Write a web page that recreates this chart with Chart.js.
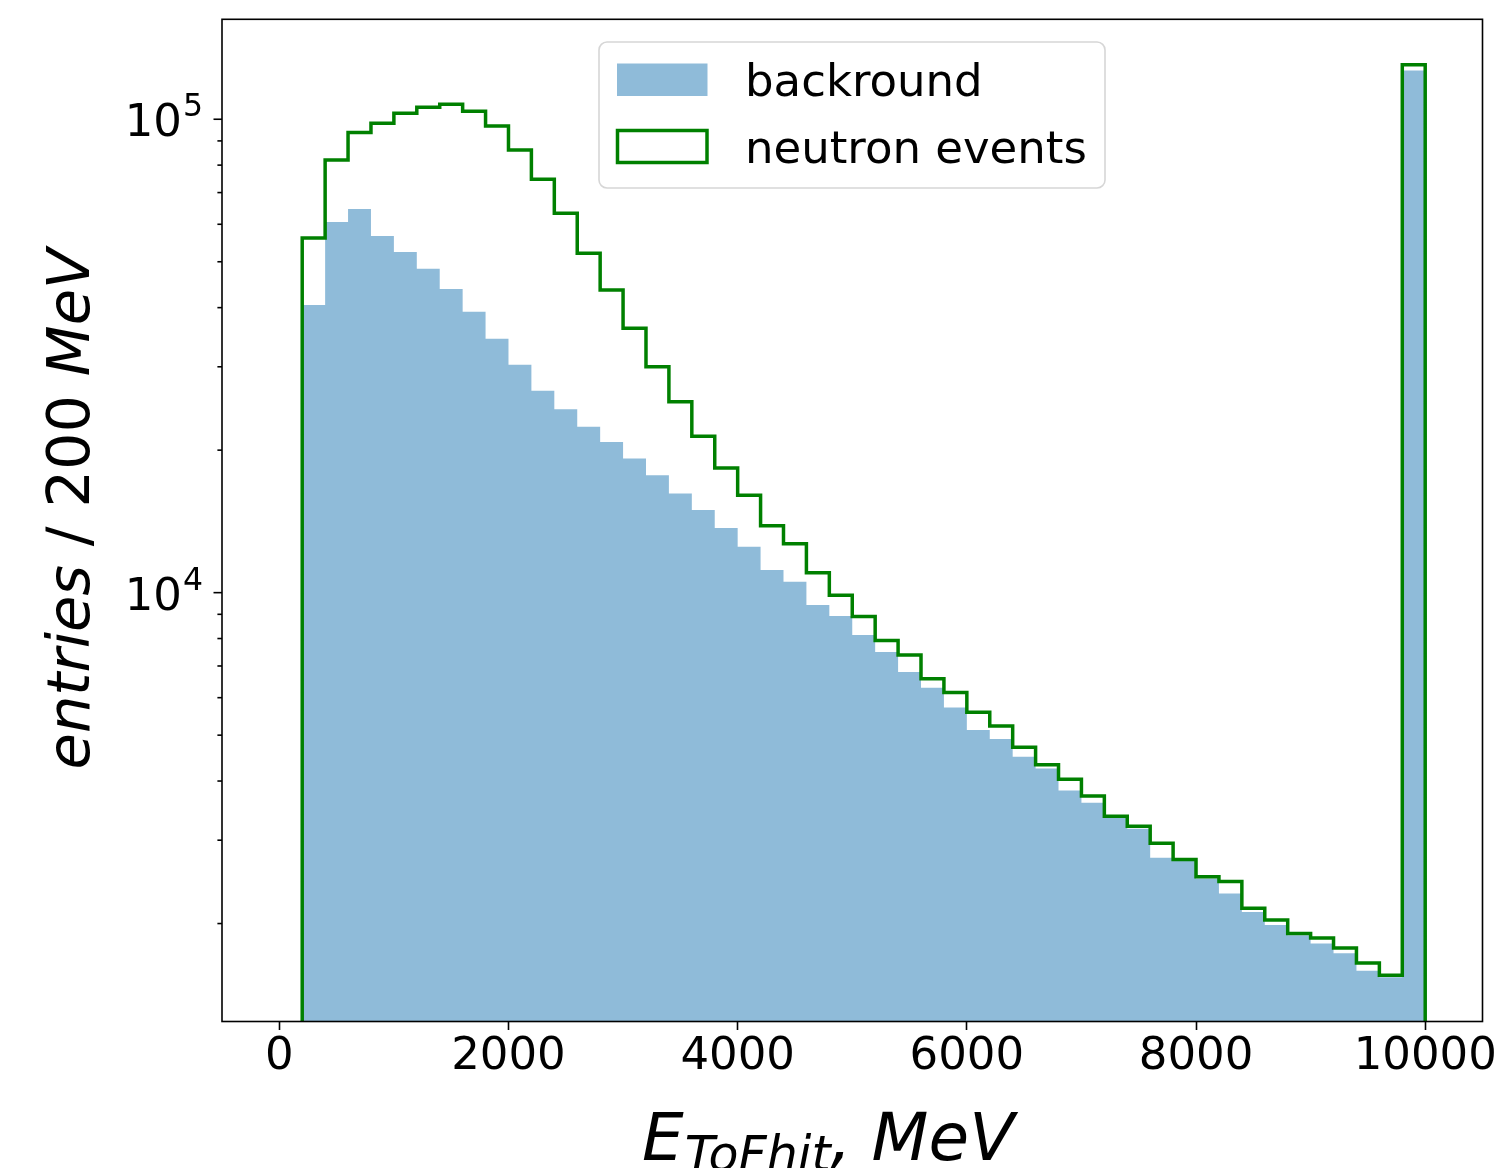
<!DOCTYPE html>
<html>
<head>
<meta charset="utf-8">
<title>ToF hit energy</title>
<script src="https://cdn.jsdelivr.net/npm/chart.js@4.4.1/dist/chart.umd.min.js"></script>
<style>
  html, body { margin: 0; padding: 0; background: #fff; }
  #wrap { width: 1500px; height: 1168px; }
</style>
</head>
<body>
<div id="wrap"><canvas id="histChart" width="1500" height="1168"></canvas></div>
<script>
// bin edges, 200 MeV wide
const binEdges = [
  200, 400, 600, 800, 1000, 1200, 1400, 1600, 1800, 2000,
  2200, 2400, 2600, 2800, 3000, 3200, 3400, 3600, 3800, 4000,
  4200, 4400, 4600, 4800, 5000, 5200, 5400, 5600, 5800, 6000,
  6200, 6400, 6600, 6800, 7000, 7200, 7400, 7600, 7800, 8000,
  8200, 8400, 8600, 8800, 9000, 9200, 9400, 9600, 9800, 10000
];

// entries per bin
const background = [
  40500, 60700, 64600, 56700, 52400, 48300, 43800, 39200, 34400, 30300,
  26700, 24400, 22400, 20800, 19200, 17700, 16200, 14950, 13700, 12500,
  11170, 10540, 9420, 8930, 8140, 7490, 6800, 6300, 5720, 5130,
  4910, 4500, 4250, 3820, 3600, 3340, 3170, 2755, 2710, 2490,
  2315, 2115, 1985, 1890, 1815, 1730, 1590, 1540, 126700
];

const neutron = [
  56150, 82000, 93700, 98100, 103000, 106000, 107600, 104000, 96800, 86100,
  74700, 63300, 52100, 43600, 36200, 30000, 25300, 21400, 18340, 16060,
  13850, 12690, 11010, 9880, 8900, 7920, 7380, 6580, 6150, 5590,
  5230, 4715, 4330, 4035, 3720, 3370, 3210, 2955, 2730, 2510,
  2455, 2155, 2035, 1905, 1865, 1775, 1650, 1555, 130400
];

const xTicks = [0, 2000, 4000, 6000, 8000, 10000];
const yMajorExponents = [4, 5];
const legendLabels = ["backround", "neutron events"];

const xRange = [-500, 10500];
const yRange = [1242, 162600];

const fillColor = "rgba(31, 119, 180, 0.5)";
const stepColor = "#008000";
const FONT = "'DejaVu Sans', 'Liberation Sans', sans-serif";

// one point per bin edge; the last edge repeats the last bin so the step closes
function stepPoints(values) {
  return binEdges.map(function (x, i) {
    return { x: x, y: values[Math.min(i, values.length - 1)] };
  });
}

// outline drops to the bottom at both ends, like histtype='step'
const outlineFloor = 1;
const neutronPoints = [{ x: binEdges[0], y: outlineFloor }]
  .concat(stepPoints(neutron))
  .concat([{ x: binEdges[binEdges.length - 1], y: outlineFloor }]);

function drawRuns(ctx, runs, x, y) {
  // draws a list of text pieces left to right, returns the end x
  runs.forEach(function (r) {
    ctx.font = r.font;
    ctx.fillText(r.text, x + (r.dx || 0), y + (r.dy || 0));
    x += ctx.measureText(r.text).width + (r.dx || 0);
  });
  return x;
}

function runsWidth(ctx, runs) {
  let w = 0;
  runs.forEach(function (r) {
    ctx.font = r.font;
    w += ctx.measureText(r.text).width + (r.dx || 0);
  });
  return w;
}

const decorations = {
  id: "decorations",
  afterDraw(chart) {
    const ctx = chart.ctx;
    const a = chart.chartArea;
    const yScale = chart.scales.y;
    ctx.save();

    // frame
    ctx.strokeStyle = "#000";
    ctx.lineWidth = 1.6;
    ctx.strokeRect(a.left, a.top, a.right - a.left, a.bottom - a.top);

    // log y ticks: majors at decades, minors at 2..9
    for (let e = 3; e <= 5; e++) {
      for (let m = 1; m < 10; m++) {
        const v = m * Math.pow(10, e);
        if (v < yScale.min || v > yScale.max) continue;
        const py = yScale.getPixelForValue(v);
        const len = m === 1 ? 8.5 : 4.6;
        ctx.beginPath();
        ctx.moveTo(a.left - len, py);
        ctx.lineTo(a.left, py);
        ctx.stroke();
      }
    }

    // decade labels 10^n
    ctx.fillStyle = "#000";
    ctx.textBaseline = "alphabetic";
    yMajorExponents.forEach(function (e) {
      const py = yScale.getPixelForValue(Math.pow(10, e));
      ctx.textAlign = "right";
      ctx.font = "45px " + FONT;
      ctx.fillText("10", 182, py + 17);
      ctx.textAlign = "left";
      ctx.font = "31.5px " + FONT;
      ctx.fillText(String(e), 183, py - 3);
    });

    // y axis title
    const yRuns = [
      { text: "entries", font: "italic 59px " + FONT },
      { text: " / 200 ", font: "59px " + FONT },
      { text: "MeV", font: "italic 59px " + FONT }
    ];
    ctx.save();
    ctx.translate(89, 509);
    ctx.rotate(-Math.PI / 2);
    ctx.textAlign = "left";
    drawRuns(ctx, yRuns, -runsWidth(ctx, yRuns) / 2, 0);
    ctx.restore();

    // x axis title E_ToFhit, MeV
    ctx.textAlign = "left";
    const xRuns = [
      { text: "E", font: "italic 66px " + FONT },
      { text: "ToFhit", font: "italic 49px " + FONT, dy: 11, dx: 1 },
      { text: ",", font: "italic 66px " + FONT },
      { text: "MeV", font: "italic 66px " + FONT, dx: 20 }
    ];
    drawRuns(ctx, xRuns, 642, 1160);

    // legend
    const lx = 599, ly = 42, lw = 506, lh = 146;
    ctx.beginPath();
    ctx.roundRect(lx, ly, lw, lh, 8);
    ctx.fillStyle = "rgba(255, 255, 255, 0.8)";
    ctx.fill();
    ctx.strokeStyle = "#d6d6d6";
    ctx.lineWidth = 1.6;
    ctx.stroke();

    ctx.fillStyle = fillColor;
    ctx.fillRect(617, 63.5, 90.5, 32.5);

    ctx.strokeStyle = stepColor;
    ctx.lineWidth = 3.5;
    ctx.strokeRect(617.5, 130.5, 89.5, 32);

    ctx.fillStyle = "#000";
    ctx.font = "45px " + FONT;
    ctx.fillText(legendLabels[0], 745, 96);
    ctx.fillText(legendLabels[1], 745, 163);

    ctx.restore();
  }
};

const ctx = document.getElementById("histChart").getContext("2d");

const histChart = new Chart(ctx, {
  type: "line",
  data: {
    datasets: [
      {
        label: legendLabels[1],
        data: neutronPoints,
        stepped: "before",
        borderColor: stepColor,
        borderWidth: 3.5,
        borderJoinStyle: "miter",
        pointRadius: 0,
        fill: false,
        order: 0,
        clip: { left: 3, right: 3, top: 3, bottom: 0 }
      },
      {
        label: legendLabels[0],
        data: stepPoints(background),
        stepped: "before",
        borderWidth: 0,
        borderColor: "rgba(0,0,0,0)",
        backgroundColor: fillColor,
        pointRadius: 0,
        fill: "start",
        order: 1
      }
    ]
  },
  options: {
    responsive: false,
    devicePixelRatio: 1,
    animation: false,
    layout: { padding: { left: 0, right: 17.5, top: 19.3, bottom: 0 } },
    plugins: {
      legend: { display: false },
      tooltip: { enabled: false }
    },
    scales: {
      x: {
        type: "linear",
        min: xRange[0],
        max: xRange[1],
        afterBuildTicks: function (scale) {
          scale.ticks = xTicks.map(function (v) { return { value: v }; });
        },
        afterFit: function (scale) { scale.height = 146.5; },
        grid: {
          drawOnChartArea: false,
          drawTicks: true,
          tickLength: 8.5,
          tickWidth: 1.6,
          tickColor: "#000"
        },
        border: { display: false },
        ticks: {
          color: "#000",
          font: { family: FONT, size: 45 },
          padding: 0,
          maxRotation: 0,
          autoSkip: false,
          callback: function (value) { return String(value); }
        }
      },
      y: {
        type: "logarithmic",
        min: yRange[0],
        max: yRange[1],
        afterFit: function (scale) { scale.width = 222; },
        grid: { display: false },
        border: { display: false },
        ticks: { display: false }
      }
    }
  },
  plugins: [decorations]
});
</script>
</body>
</html>
